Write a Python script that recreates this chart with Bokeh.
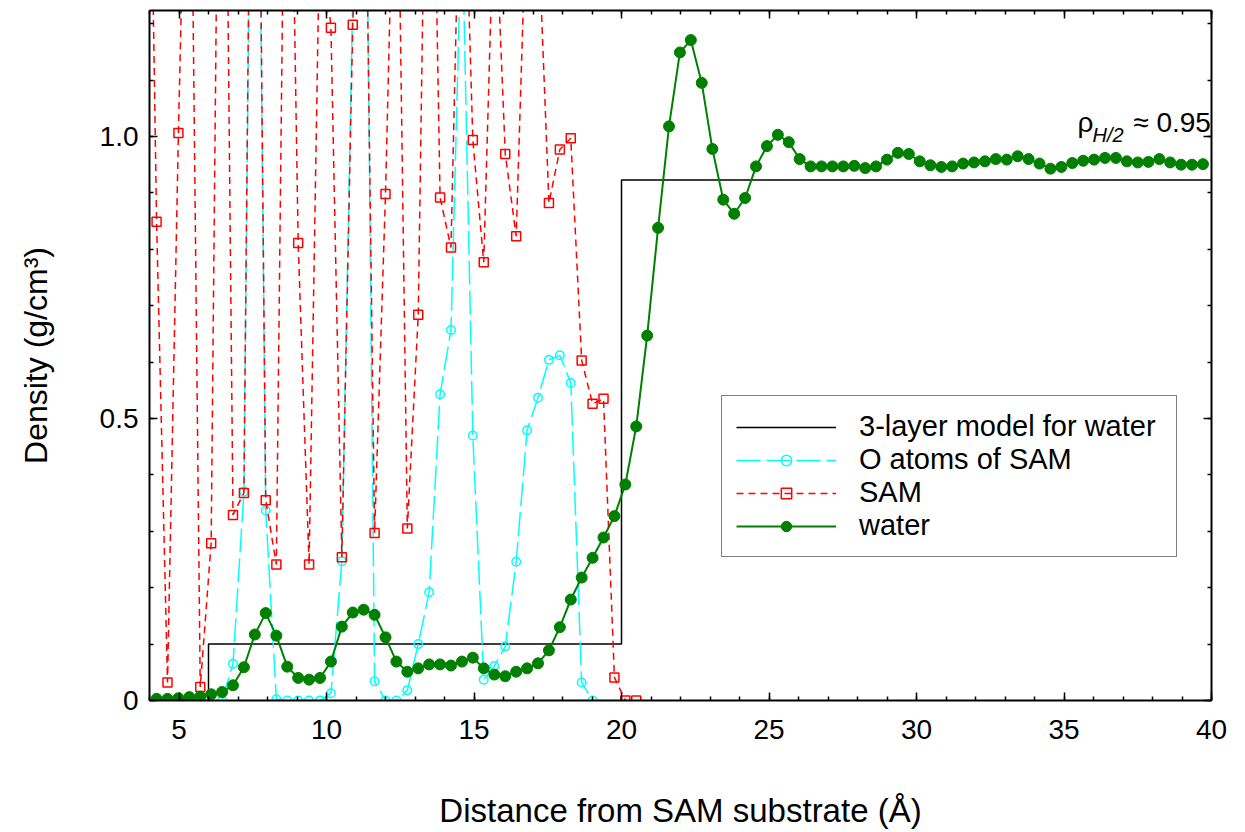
from bokeh.plotting import figure
from bokeh.models import (Range1d, LinearAxis, FixedTicker, Legend, LegendItem, Label,
                          CustomJSTickFormatter)
from bokeh.embed import file_html
from bokeh.resources import INLINE

# Distance grid (Å), bins i = -1 .. 96
x_grid = [3.87, 4.24, 4.61, 4.98, 5.35, 5.72, 6.09, 6.46, 6.83, 7.20, 7.57,
          7.94, 8.30, 8.67, 9.04, 9.41, 9.78, 10.15, 10.52, 10.89, 11.26,
          11.63, 12.00, 12.37, 12.74, 13.11, 13.48, 13.85, 14.22, 14.59, 14.96,
          15.33, 15.69, 16.06, 16.43, 16.80, 17.17, 17.54, 17.91, 18.28, 18.65,
          19.02, 19.39, 19.76, 20.13, 20.50, 20.87, 21.24, 21.61, 21.98, 22.35,
          22.72, 23.08, 23.45, 23.82, 24.19, 24.56, 24.93, 25.30, 25.67, 26.04,
          26.41, 26.78, 27.15, 27.52, 27.89, 28.26, 28.63, 29.00, 29.37, 29.74,
          30.11, 30.47, 30.84, 31.21, 31.58, 31.95, 32.32, 32.69, 33.06, 33.43,
          33.80, 34.17, 34.54, 34.91, 35.28, 35.65, 36.02, 36.39, 36.76, 37.13,
          37.50, 37.86, 38.23, 38.60, 38.97, 39.34, 39.71]

# water density, bins 0 .. 96
water_y = [0.003, 0.003, 0.004, 0.006, 0.007, 0.011, 0.015, 0.027, 0.059, 0.117,
           0.155, 0.115, 0.060, 0.040, 0.037, 0.040, 0.069, 0.131, 0.156, 0.161,
           0.152, 0.112, 0.069, 0.051, 0.057, 0.064, 0.064, 0.062, 0.069, 0.076,
           0.057, 0.046, 0.043, 0.051, 0.057, 0.066, 0.089, 0.130, 0.179, 0.218,
           0.253, 0.289, 0.327, 0.383, 0.486, 0.647, 0.838, 1.018, 1.149, 1.171,
           1.095, 0.978, 0.888, 0.863, 0.891, 0.947, 0.983, 1.003, 0.990, 0.960,
           0.947, 0.947, 0.947, 0.947, 0.948, 0.944, 0.947, 0.959, 0.971, 0.969,
           0.956, 0.949, 0.946, 0.947, 0.952, 0.954, 0.956, 0.960, 0.959, 0.965,
           0.960, 0.952, 0.943, 0.946, 0.953, 0.957, 0.959, 0.962, 0.962, 0.956,
           0.954, 0.955, 0.960, 0.954, 0.950, 0.950, 0.951]

# SAM density, bins -1 .. 44
sam_y = [2.10, 0.849, 0.032, 1.006, 1.85, 0.024, 0.279, 2.30, 0.329, 0.368,
         2.40, 0.355, 0.241, 2.00, 0.811, 0.241, 1.40, 1.193, 0.254, 1.198,
         1.76, 0.297, 0.898, 1.70, 0.305, 0.684, 2.00, 0.892, 0.803, 1.65,
         0.994, 0.777, 1.44, 0.969, 0.823, 1.45, 1.38, 0.882, 0.977, 0.997,
         0.603, 0.526, 0.535, 0.041, 0.0, 0.0]

# O atoms of SAM, bins 6 .. 40
o_atoms_y = [0.0, 0.065, 0.37, 2.30, 0.337, 0.002, 0.0, 0.0, 0.0, 0.0,
             0.013, 0.247, 1.25, 1.97, 0.034, 0.0, 0.0, 0.018, 0.100, 0.192,
             0.543, 0.657, 1.40, 0.470, 0.037, 0.061, 0.096, 0.246, 0.479, 0.537,
             0.604, 0.612, 0.563, 0.032, 0.0]

# 3-layer model for water
model_edges = [4, 6, 20, 40]
model_density = [0.0, 0.1, 0.923, 0.923]

x_ticks = [5, 10, 15, 20, 25, 30, 35, 40]
y_ticks = [0, 0.5, 1.0]
y_tick_labels = {0: "0", 0.5: "0.5", 1: "1.0"}

water_x = x_grid[1:98]
sam_x = x_grid[0:46]
o_x = x_grid[7:42]

FONT = "Liberation Sans"

p = figure(width=1245, height=832, output_backend="svg", toolbar_location=None,
           x_range=Range1d(4, 40), y_range=Range1d(0, 1.2234),
           min_border_left=149, min_border_right=34, min_border_top=10,
           min_border_bottom=132, x_axis_label="Distance from SAM substrate (Å)",
           y_axis_label="Density (g/cm³)")
p.grid.visible = False
p.outline_line_color = None
p.background_fill_color = "white"
p.border_fill_color = "white"

bottom = p.xaxis[0]
left = p.yaxis[0]

xt = FixedTicker(ticks=x_ticks, minor_ticks=list(range(4, 41)))
yt = FixedTicker(ticks=y_ticks, minor_ticks=[round(0.1 * k, 1) for k in range(0, 13)])
bottom.ticker = xt
left.ticker = yt
left.major_label_overrides = y_tick_labels

blank = CustomJSTickFormatter(code="return ''")
top = LinearAxis(ticker=xt, formatter=blank, major_label_standoff=0)
right = LinearAxis(ticker=yt, formatter=blank, major_label_standoff=0)
p.add_layout(top, "above")
p.add_layout(right, "right")

for ax in [bottom, left, top, right]:
    ax.axis_line_width = 2
    ax.axis_line_color = "black"
    ax.major_tick_in = 8
    ax.major_tick_out = 0
    ax.minor_tick_in = 4
    ax.minor_tick_out = 0
    ax.major_tick_line_width = 1.5
    ax.minor_tick_line_width = 1.5
    ax.major_label_text_font = FONT
    ax.axis_label_text_font = FONT
    ax.axis_label_text_font_style = "normal"
    ax.major_label_text_color = "black"
    ax.axis_label_text_color = "black"

bottom.major_label_text_font_size = "28px"
left.major_label_text_font_size = "28px"
bottom.axis_label_text_font_size = "33px"
left.axis_label_text_font_size = "32px"
bottom.major_label_standoff = 19
left.major_label_standoff = 11
bottom.axis_label_standoff = 50
left.axis_label_standoff = 43

r_model = p.step(model_edges, model_density, mode="after", line_color="black", line_width=1.5)

r_o_line = p.line(o_x, o_atoms_y, line_color="#00ffff", line_width=1.5, line_dash="24 6")
r_o_pts = p.scatter(o_x, o_atoms_y, marker="circle", size=8.5, line_color="#00ffff",
                    line_width=1.5, fill_color=None)

r_sam_line = p.line(sam_x, sam_y, line_color="#ff0000", line_width=1.5, line_dash="7 5")
r_sam_pts = p.scatter(sam_x, sam_y, marker="square", size=9, line_color="#ff0000",
                      line_width=1.5, fill_color=None)

r_w_line = p.line(water_x, water_y, line_color="#008000", line_width=2)
r_w_pts = p.scatter(water_x, water_y, marker="circle", size=11, line_color="#008000",
                    fill_color="#008000")

legend = Legend(items=[
    LegendItem(label="3-layer model for water", renderers=[r_model]),
    LegendItem(label="O atoms of SAM", renderers=[r_o_line, r_o_pts]),
    LegendItem(label="SAM", renderers=[r_sam_line, r_sam_pts]),
    LegendItem(label="water", renderers=[r_w_line, r_w_pts]),
], location=(572, 143))
legend.label_text_font = FONT
legend.label_text_font_size = "29px"
legend.label_text_color = "black"
legend.glyph_width = 100
legend.glyph_height = 26
legend.label_height = 26
legend.label_width = 303
legend.label_standoff = 23
legend.spacing = 0
legend.padding = 14
legend.margin = 0
legend.border_line_color = "black"
legend.border_line_width = 1.5
legend.background_fill_color = "white"
legend.background_fill_alpha = 1.0
p.add_layout(legend, "center")

p.add_layout(Label(x=35.46, y=1.025, text="ρ", text_font=FONT, text_font_size="28px",
                   text_color="black", text_baseline="alphabetic", text_align="left"))
p.add_layout(Label(x=35.97, y=1.002, text="H/2", text_font=FONT, text_font_size="20px",
                   text_color="black", text_font_style="italic",
                   text_baseline="alphabetic", text_align="left"))
p.add_layout(Label(x=39.98, y=1.025, text="≈ 0.95", text_font=FONT, text_font_size="28px",
                   text_color="black", text_baseline="alphabetic", text_align="right"))

open("out.html", "w").write(file_html(p, INLINE))
